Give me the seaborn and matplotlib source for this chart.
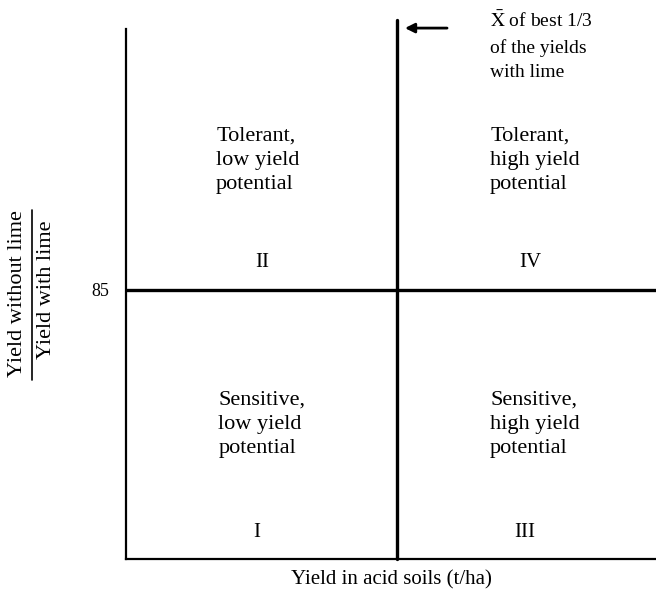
import matplotlib
matplotlib.use("Agg")
import matplotlib.pyplot as plt
import seaborn as sns

# quadrant diagram data
x_limits = [0, 10]
y_limits = [70, 100]
x_divider = 5.11          # mean of best 1/3 of the yields with lime
y_divider = 85            # threshold ratio
y_ticks = [85]

quadrant_texts = ["Tolerant,\nlow yield\npotential",
                  "Tolerant,\nhigh yield\npotential",
                  "Sensitive,\nlow yield\npotential",
                  "Sensitive,\nhigh yield\npotential"]
quadrant_numerals = ["II", "IV", "I", "III"]
arrow_note = r"$\bar{\mathrm{X}}$ of best 1/3" + "\nof the yields\nwith lime"
x_title = "Yield in acid soils (t/ha)"
y_title_top = "Yield without lime"
y_title_bottom = "Yield with lime"

sns.set_style("white")
plt.rcParams['font.family'] = ['Liberation Serif', 'DejaVu Serif']
plt.rcParams['mathtext.fontset'] = 'stix'
plt.rcParams['text.color'] = 'black'
plt.rcParams['axes.labelcolor'] = 'black'
plt.rcParams['ytick.color'] = 'black'

fig = plt.figure(figsize=(6.56, 5.92), dpi=100)
ax = fig.add_axes([126 / 656, 1 - 559 / 592, 530 / 656, 539 / 592])
ax.set_xlim(x_limits)
ax.set_ylim(y_limits)
sns.despine(ax=ax)
for side in ["left", "bottom"]:
    ax.spines[side].set_linewidth(1.6)
    ax.spines[side].set_color("black")
ax.spines["left"].set_bounds(y_limits[0], 99.5)

ax.axvline(x_divider, color="black", lw=2.4, clip_on=False)
ax.axhline(y_divider, color="black", lw=2.4)

ax.set_xticks([])
ax.set_yticks(y_ticks)
ax.set_yticklabels([str(t) for t in y_ticks], fontsize=13)
ax.tick_params(axis="y", length=0, pad=12)
ax.set_xlabel(x_title, fontsize=15, labelpad=8)

# quadrant descriptions
text_x = [1.70, 6.87, 1.74, 6.87]
text_y = [92.2, 92.2, 77.5, 77.5]
num_x = [2.58, 7.62, 2.47, 7.53]
num_y = [86.5, 86.5, 71.5, 71.5]
for t, x, y in zip(quadrant_texts, text_x, text_y):
    ax.text(x, y, t, ha="left", va="center", fontsize=16, linespacing=1.35)
for n, x, y in zip(quadrant_numerals, num_x, num_y):
    ax.text(x, y, n, ha="center", va="center", fontsize=15)

# arrow pointing at the divider
ax.annotate("", xy=(x_divider + 0.1, 99.55), xytext=(6.11, 99.55),
            arrowprops=dict(arrowstyle="-|>", color="black", lw=2,
                            mutation_scale=14),
            annotation_clip=False)
ax.text(6.87, 98.55, arrow_note, ha="left", va="center", fontsize=14,
        linespacing=1.55, clip_on=False)

# fraction-style y title
fig.text(18 / 656, 1 - 294 / 592, y_title_top, rotation=90,
         ha="center", va="center", fontsize=16)
fig.text(47 / 656, 1 - 290 / 592, y_title_bottom, rotation=90,
         ha="center", va="center", fontsize=16)
fig.add_artist(plt.Line2D([32 / 656, 32 / 656], [1 - 380 / 592, 1 - 210 / 592],
                          color="black", lw=1.2, transform=fig.transFigure))

fig.savefig("out.png", dpi=100)
